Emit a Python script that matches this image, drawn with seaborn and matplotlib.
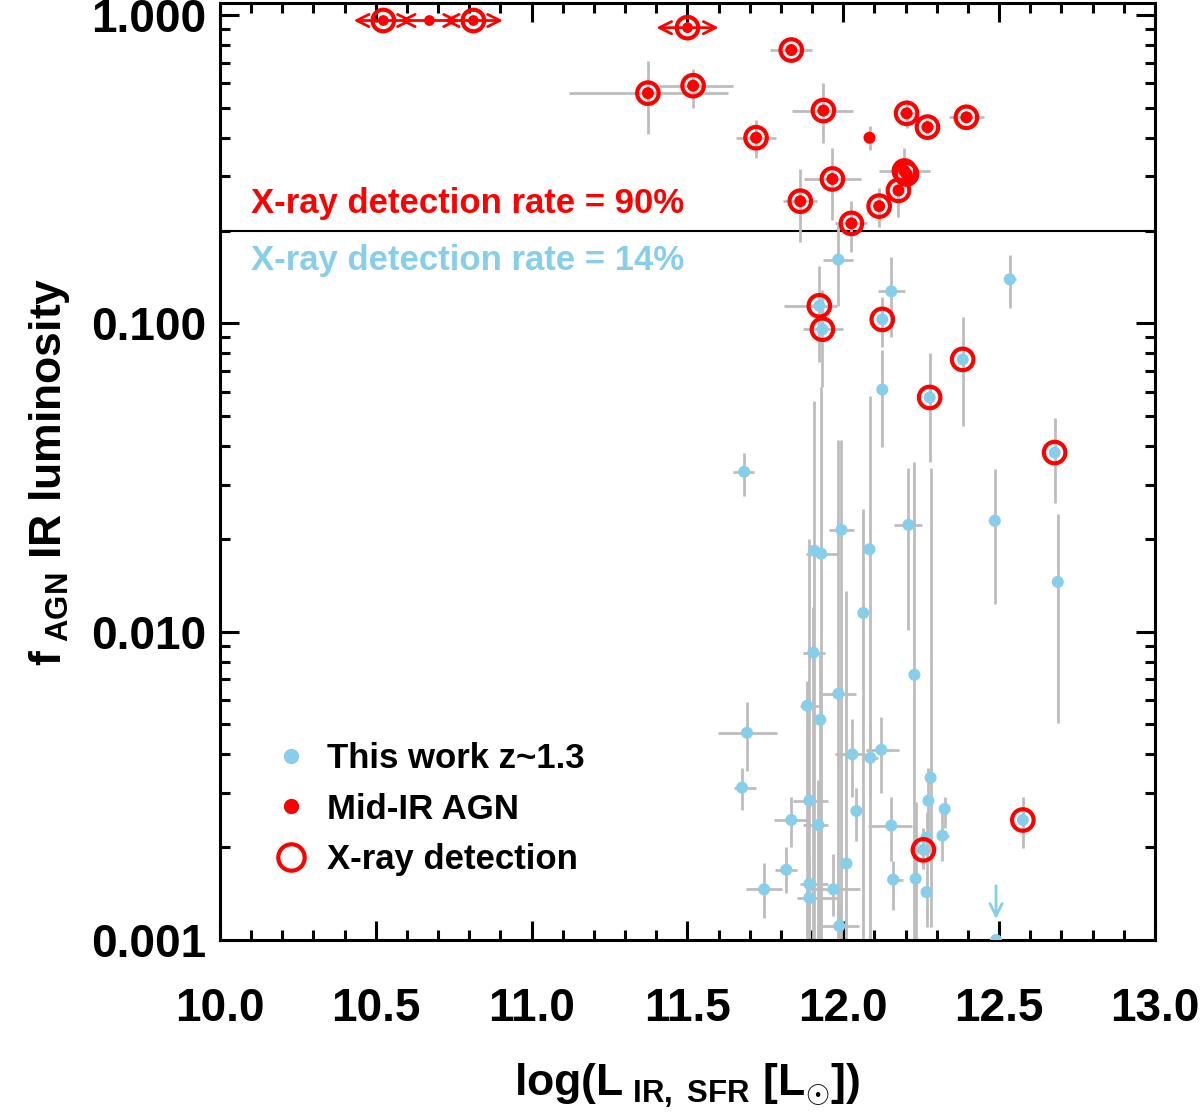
import numpy as np
import matplotlib
matplotlib.use("Agg")
from matplotlib import pyplot as plt
from matplotlib.lines import Line2D
from matplotlib.ticker import FixedLocator, FuncFormatter, MultipleLocator
import seaborn as sns

# Mid-IR AGN (red dots) with error ranges, and X-ray flag
agn_x = [11.373, 11.518, 11.833, 11.936, 11.72, 12.084, 12.203, 12.27, 12.395,
         12.196, 12.203, 12.177, 11.965, 11.862, 12.115, 12.026]
agn_y = [0.558, 0.59, 0.77, 0.49, 0.40, 0.40, 0.48, 0.433, 0.466,
         0.312, 0.305, 0.27, 0.294, 0.249, 0.24, 0.211]
agn_xlo = [11.12, 11.41, 11.765, 11.836, 11.656, 12.075, 12.18, 12.25, 12.34,
           12.115, 12.19, 12.16, 11.875, 11.807, 12.10, 11.974]
agn_xhi = [11.63, 11.646, 11.90, 12.03, 11.785, 12.093, 12.23, 12.29, 12.45,
           12.277, 12.22, 12.19, 12.058, 11.916, 12.13, 12.077]
agn_ylo = [0.41, 0.50, 0.74, 0.384, 0.343, 0.365, 0.43, 0.41, 0.45,
           0.28, 0.29, 0.222, 0.216, 0.183, 0.205, 0.17]
agn_yhi = [0.71, 0.67, 0.80, 0.60, 0.456, 0.436, 0.53, 0.46, 0.48,
           0.37, 0.32, 0.33, 0.37, 0.316, 0.275, 0.25]
agn_xray = [1, 1, 1, 1, 1, 0, 1, 1, 1, 1, 1, 1, 1, 1, 1, 1]

# Mid-IR AGN with only a range in L_IR (double arrows)
lim_x = [10.524, 10.672, 10.813, 11.50]
lim_y = [0.96, 0.96, 0.96, 0.91]
lim_half = [0.095, 0.095, 0.095, 0.1]
lim_xray = [1, 0, 1, 1]

# This work z~1.3 (blue dots)
src_x = [11.984, 11.923, 11.933, 12.154, 12.125, 12.125, 12.277, 12.383, 12.534, 12.678,
         11.682, 12.486, 12.209, 11.994, 11.907, 11.929, 12.084, 12.688, 12.064, 11.904,
         12.228, 11.984, 11.884, 11.926, 11.691, 11.675, 12.029, 12.087, 12.122, 12.28,
         12.273, 12.325, 12.318, 12.257, 12.267, 12.267, 12.232, 12.16, 12.154, 12.042,
         12.01, 11.968, 11.987, 11.891, 11.92, 11.833, 11.817, 11.746, 11.891, 11.891,
         12.576]
src_y = [0.161, 0.114, 0.0957, 0.127, 0.103, 0.061, 0.0575, 0.0764, 0.139, 0.0381,
         0.033, 0.0229, 0.0222, 0.0214, 0.0183, 0.0179, 0.0185, 0.0145, 0.0115, 0.00855,
         0.00725, 0.00629, 0.00575, 0.00518, 0.0047, 0.00312, 0.0040, 0.0039, 0.00414, 0.00336,
         0.00283, 0.00266, 0.00218, 0.00196, 0.00215, 0.00143, 0.00158, 0.00157, 0.00235, 0.00262,
         0.00177, 0.00146, 0.00111, 0.00283, 0.00236, 0.00245, 0.00169, 0.00146, 0.00152, 0.00137,
         0.00245]
src_xlo = [11.936, 11.81, 11.87, 12.11, 12.11, 12.11, 12.26, 12.37, 12.515, 12.665,
           11.646, 12.48, 12.164, 11.955, 11.90, 11.88, 12.075, 12.675, 12.055, 11.87,
           12.215, 11.93, 11.86, 11.91, 11.598, 11.65, 11.974, 12.06, 12.074, 12.27,
           12.265, 12.31, 12.30, 12.235, 12.255, 12.255, 12.225, 12.14, 12.08, 12.03,
           12.0, 11.894, 11.93, 11.84, 11.87, 11.778, 11.78, 11.688, 11.86, 11.85,
           12.565]
src_xhi = [12.03, 11.98, 12.0, 12.197, 12.14, 12.14, 12.29, 12.395, 12.553, 12.69,
           11.714, 12.49, 12.254, 12.035, 11.915, 11.98, 12.093, 12.70, 12.075, 11.94,
           12.24, 12.04, 11.93, 11.94, 11.788, 11.72, 12.07, 12.11, 12.18, 12.29,
           12.28, 12.34, 12.34, 12.28, 12.28, 12.28, 12.24, 12.19, 12.22, 12.055,
           12.02, 12.055, 12.05, 11.95, 11.95, 11.887, 11.85, 11.804, 11.95, 11.98,
           12.585]
src_ylo = [0.114, 0.0747, 0.062, 0.090, 0.0836, 0.0396, 0.0354, 0.0463, 0.112, 0.0262,
           0.0276, 0.0123, 0.0101, 0.0005, 0.0005, 0.0005, 0.0005, 0.00507, 0.0005, 0.0005,
           0.0005, 0.0005, 0.0005, 0.0005, 0.00354, 0.00264, 0.0029, 0.0029, 0.0030, 0.0011,
           0.0019, 0.0023, 0.0018, 0.0017, 0.0018, 0.0011, 0.0005, 0.00125, 0.0018, 0.0021,
           0.0005, 0.0012, 0.0008, 0.0005, 0.0005, 0.0020, 0.00142, 0.00118, 0.0005, 0.0005,
           0.00199]
src_yhi = [0.21, 0.153, 0.128, 0.164, 0.122, 0.082, 0.080, 0.105, 0.166, 0.0495,
           0.038, 0.0336, 0.034, 0.042, 0.056, 0.062, 0.058, 0.024, 0.025, 0.012,
           0.0355, 0.042, 0.0069, 0.0085, 0.0059, 0.0036, 0.0052, 0.005, 0.0053, 0.034,
           0.0036, 0.0029, 0.0026, 0.0023, 0.0026, 0.0018, 0.0028, 0.0018, 0.0029, 0.0031,
           0.0135, 0.0019, 0.0013, 0.02, 0.0033, 0.0029, 0.0020, 0.00178, 0.0019, 0.0017,
           0.0029]
src_xray = [0, 1, 1, 0, 1, 0, 1, 1, 0, 1,
            0, 0, 0, 0, 0, 0, 0, 0, 0, 0,
            0, 0, 0, 0, 0, 0, 0, 0, 0, 0,
            0, 0, 0, 1, 0, 0, 0, 0, 0, 0,
            0, 0, 0, 0, 0, 0, 0, 0, 0, 0,
            1]

# upper limit
ul_x = [12.49]
ul_y = [0.001]

f_split = 0.2
rate_hi = "X-ray detection rate = 90%"
rate_lo = "X-ray detection rate = 14%"

BLUE = "#87ceeb"
RED = "#ff0000"
GREY = "#bdbdbd"

sns.set_style("ticks")
plt.rcParams["font.family"] = ["Liberation Sans", "DejaVu Sans"]
plt.rcParams["font.weight"] = "bold"
plt.rcParams["mathtext.fontset"] = "custom"
plt.rcParams["mathtext.rm"] = "Liberation Sans:bold"
plt.rcParams["mathtext.bf"] = "Liberation Sans:bold"
plt.rcParams["mathtext.it"] = "Liberation Sans:bold"
for key in ["text.color", "axes.labelcolor", "xtick.color", "ytick.color", "axes.edgecolor"]:
    plt.rcParams[key] = "black"

fig = plt.figure(figsize=(12, 11.14), dpi=100)
ax = fig.add_axes([0.1833, 0.1562, 0.7792, 0.8411])
ax.set_yscale("log")


def errs(v, lo, hi):
    v = np.asarray(v)
    return np.vstack([v - np.asarray(lo), np.asarray(hi) - v])


ax.errorbar(src_x, src_y, xerr=errs(src_x, src_xlo, src_xhi), yerr=errs(src_y, src_ylo, src_yhi),
            fmt="none", ecolor=GREY, elinewidth=2, capsize=0, zorder=1)
ax.errorbar(agn_x, agn_y, xerr=errs(agn_x, agn_xlo, agn_xhi), yerr=errs(agn_y, agn_ylo, agn_yhi),
            fmt="none", ecolor=GREY, elinewidth=2, capsize=0, zorder=1)

sns.scatterplot(x=src_x, y=src_y, color=BLUE, s=75, edgecolor="none", ax=ax, zorder=3)
sns.scatterplot(x=agn_x, y=agn_y, color=RED, s=75, edgecolor="none", ax=ax, zorder=3)
sns.scatterplot(x=lim_x, y=lim_y, color=RED, s=60, edgecolor="none", ax=ax, zorder=3)

# double arrows for the range-only objects
for x, y, h in zip(lim_x, lim_y, lim_half):
    for side in (-1, 1):
        ax.annotate("", xy=(x + side * h, y), xytext=(x, y),
                    arrowprops=dict(arrowstyle="->", color=RED, lw=2, mutation_scale=22,
                                    shrinkA=0, shrinkB=0), zorder=2)

# X-ray detections
cx = [x for x, f in zip(src_x + agn_x + lim_x, src_xray + agn_xray + lim_xray) if f]
cy = [y for y, f in zip(src_y + agn_y + lim_y, src_xray + agn_xray + lim_xray) if f]
ax.scatter(cx, cy, s=240, facecolors="none", edgecolors=RED, linewidths=3, zorder=4)

# upper limit
sns.scatterplot(x=ul_x, y=ul_y, color=BLUE, s=75, edgecolor="none", ax=ax, zorder=3)
for x, y in zip(ul_x, ul_y):
    ax.annotate("", xy=(x, y * 1.17), xytext=(x, y * 1.5),
                arrowprops=dict(arrowstyle="->", color=BLUE, lw=2, mutation_scale=22,
                                shrinkA=0, shrinkB=0))

ax.axhline(f_split, color="black", lw=1.5, zorder=0)
ax.text(10.1, 0.245, rate_hi, color=RED, fontsize=25, fontweight="bold", va="center")
ax.text(10.1, 0.160, rate_lo, color=BLUE, fontsize=25, fontweight="bold", va="center")

ax.set_xlim(10, 13)
ax.set_ylim(0.001, 1.094)

ax.xaxis.set_major_locator(MultipleLocator(0.5))
ax.xaxis.set_minor_locator(MultipleLocator(0.1))
ax.yaxis.set_major_locator(FixedLocator([0.001, 0.01, 0.1, 1.0]))
ax.yaxis.set_major_formatter(FuncFormatter(lambda v, p: f"{v:.3f}"))
ax.tick_params(which="both", direction="in", top=True, right=True, width=2.2, color="black")
ax.tick_params(which="major", length=14)
ax.tick_params(which="minor", length=7)
ax.tick_params(axis="x", which="major", labelsize=33, pad=34)
ax.tick_params(axis="y", which="major", labelsize=33, pad=10)
for lab in ax.get_xticklabels() + ax.get_yticklabels():
    lab.set_fontweight("bold")
for s in ax.spines.values():
    s.set_linewidth(2.2)
    s.set_color("black")

ax.set_xlabel(r"log(L$_{\rm\ IR,\ SFR}$ [L$_{\odot}$])", fontsize=32, fontweight="bold", labelpad=22)
ax.set_ylabel(r"f$_{\rm\ AGN}$ IR luminosity", fontsize=32, fontweight="bold", labelpad=14)

handles = [
    Line2D([], [], ls="none", marker="o", color=BLUE, markersize=10),
    Line2D([], [], ls="none", marker="o", color=RED, markersize=10),
    Line2D([], [], ls="none", marker="o", markerfacecolor="none", markeredgecolor=RED,
           markeredgewidth=3, markersize=19),
]
ax.legend(handles, ["This work z~1.3", "Mid-IR AGN", "X-ray detection"], loc="lower left",
          bbox_to_anchor=(0.02, 0.035), frameon=False, prop={"size": 25, "weight": "bold"},
          labelspacing=0.5, handletextpad=0.45, handlelength=1.2)

fig.savefig("out.png", dpi=100)
